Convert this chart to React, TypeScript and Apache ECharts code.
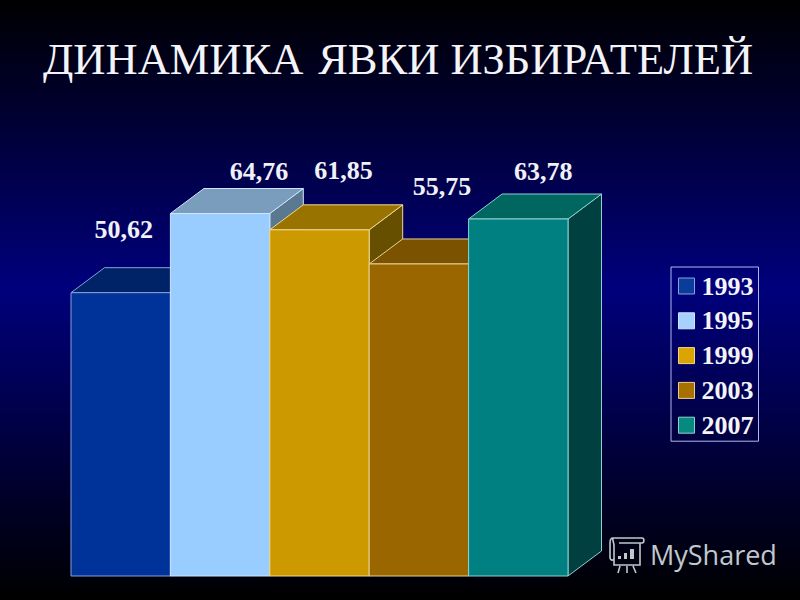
import React, { useEffect, useRef } from "react";
import * as echarts from "echarts";

const years = ["1993", "1995", "1999", "2003", "2007"];
const turnout = [50.62, 64.76, 61.85, 55.75, 63.78];
const turnoutLabels = ["50,62", "64,76", "61,85", "55,75", "63,78"];
const frontColors = ["#003399", "#99ccff", "#cc9900", "#996600", "#008080"];
const topColors = ["#002266", "#7a9dbd", "#997300", "#7a5200", "#006660"];
const sideColors = ["#001a4d", "#5a7890", "#665000", "#5a3d00", "#004040"];
const edgeColors = ["#8aa0d8", "#d0e4ff", "#f0d890", "#e8d090", "#90d0d0"];
const legendColors = ["#0a3c9c", "#a8d0ff", "#dba400", "#a87000", "#068a80"];

const DEPTH_X = 33.5;
const DEPTH_Y = 25;
const labelOffsets = [[3, -63], [39, -42], [24, -59], [23, -77], [25, -48]];

const iconPath =
  "M6 3 L35 3 C37.5 3 37.5 8 35 8 L12 8 M6 3 C3 3 3 6 3 8 L3 22 C3 26 7 26 7 23 L7 11 C7 7 5 5 6 3 " +
  "M7 10 L7 30 L33 30 L33 8 M13 31 L11 38 M20 31 L20 38 M26 31 L29 38";
echarts.graphic.registerShape("mysharedIcon", echarts.graphic.extendPath(iconPath, {}) as any);

const renderBar = (index: number) => (_: any, api: any) => {
  const [x0, y0] = api.coord([years[index], 0]);
  const [, yTop] = api.coord([years[index], api.value(1)]);
  const half = api.size([1, 0])[0] / 2;
  const left = x0 - half;
  const right = x0 + half;
  const [dx, dy] = [DEPTH_X, DEPTH_Y];
  const edge = { stroke: edgeColors[index], lineWidth: 1 };
  const face = (pts: number[][], fill: string) => ({
    type: "polygon", shape: { points: pts }, style: { fill, ...edge },
  });
  const [ox, oy] = labelOffsets[index];
  return {
    type: "group",
    children: [
      face([[right, y0], [right + dx, y0 - dy], [right + dx, yTop - dy], [right, yTop]], sideColors[index]),
      face([[left, yTop], [left + dx, yTop - dy], [right + dx, yTop - dy], [right, yTop]], topColors[index]),
      face([[left, y0], [right, y0], [right, yTop], [left, yTop]], frontColors[index]),
      {
        type: "text",
        z2: 100,
        style: {
          x: x0 + ox, y: yTop + oy, text: turnoutLabels[index], align: "center", verticalAlign: "middle",
          fill: "#f0f0f8", font: "bold 26px 'Liberation Serif'",
        },
      },
    ],
  };
};

export default function App() {
  const ref = useRef<HTMLDivElement>(null);
  useEffect(() => {
    const chart = echarts.init(ref.current!, null, { renderer: "svg" });
    chart.setOption({
      animation: false,
      backgroundColor: {
        type: "linear", x: 0, y: 0, x2: 0, y2: 1,
        colorStops: [
          { offset: 0, color: "#000000" },
          { offset: 0.48, color: "#00007c" },
          { offset: 1, color: "#000000" },
        ],
      },
      title: {
        text: "ДИНАМИКА \u200aЯВКИ ИЗБИРАТЕЛЕЙ",
        left: 38,
        top: 31,
        textStyle: { color: "#f4f4f8", fontFamily: "'Liberation Serif'", fontWeight: "normal", fontSize: 44.5 },
      },
      grid: { left: 71, top: 184.2, width: 497, height: 391.8, containLabel: false },
      xAxis: { type: "category", data: years, show: false, boundaryGap: true },
      yAxis: { type: "value", min: 0, max: 70, show: false },
      legend: {
        orient: "vertical",
        left: 671,
        top: 267,
        padding: [6, 5, 3, 7],
        itemGap: 8.8,
        itemWidth: 16,
        itemHeight: 16,
        icon: "rect",
        borderColor: "#b0b8f0",
        borderWidth: 1,
        selectedMode: false,
        textStyle: { color: "#f4f4f8", fontFamily: "'Liberation Serif'", fontWeight: "bold", fontSize: 26, padding: [0, 0, 0, 2] },
        data: years.map((y, i) => ({
          name: y,
          itemStyle: { color: legendColors[i], borderColor: edgeColors[i], borderWidth: 1 },
        })),
      },
      series: years.map((y, i) => ({
        type: "custom",
        name: y,
        coordinateSystem: "cartesian2d",
        itemStyle: { color: legendColors[i], borderColor: edgeColors[i], borderWidth: 1 },
        encode: { x: 0, y: 1 },
        renderItem: renderBar(i),
        data: [[y, turnout[i]]],
      })),
      graphic: [
        { type: "mysharedIcon", x: 607, y: 535, style: { fill: "none", stroke: "#c0c8cc", lineWidth: 1.6 } },
        { type: "rect", shape: { x: 618, y: 556, width: 3, height: 3 }, style: { fill: "#c0c8cc" } },
        { type: "rect", shape: { x: 624, y: 553, width: 3, height: 6 }, style: { fill: "#c0c8cc" } },
        { type: "rect", shape: { x: 630, y: 549, width: 4, height: 10 }, style: { fill: "#c0c8cc" } },
        {
          type: "text", x: 650, y: 541,
          style: { text: "MyShared", fill: "#c0c8cc", font: "27px 'Open Sans'" },
        },
      ],
    });
    return () => chart.dispose();
  }, []);
  return <div ref={ref} style={{ position: "fixed", left: 0, top: 0, width: 800, height: 600 }} />;
}
